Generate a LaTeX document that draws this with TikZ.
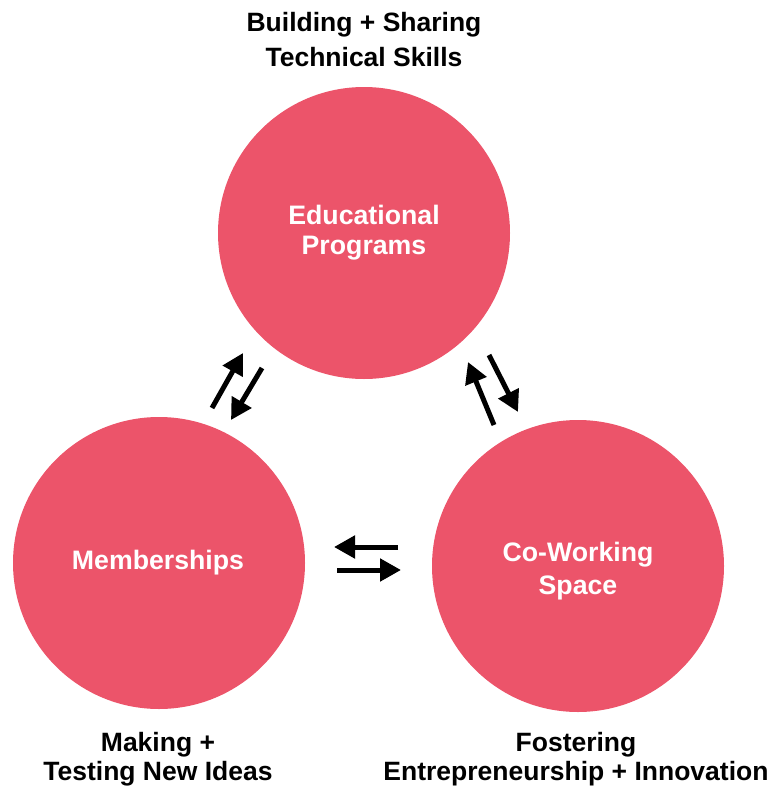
\documentclass[tikz,border=0pt]{standalone}
\usepackage{fontspec}
\setmainfont{Liberation Sans}
\usetikzlibrary{arrows.meta}
\definecolor{hub}{RGB}{236,84,106}
\tikzset{
  hubcircle/.style={circle, fill=hub, minimum size=292pt, inner sep=0pt},
  hubtext/.style={text=white, font=\bfseries\fontsize{26.7}{30}\selectfont, align=center},
  toplabel/.style={font=\bfseries\fontsize{26.5}{35}\selectfont, align=center},
  botlabel/.style={font=\bfseries\fontsize{26.5}{29}\selectfont, align=center},
  flow/.style={line width=5pt, -{Triangle[length=21pt,width=22pt]}}
}
\begin{document}
\begin{tikzpicture}[x=1pt,y=-1pt]
\useasboundingbox (0,0) rectangle (774,790);
\node[hubcircle] (edu) at (364,233) {};
\node[hubcircle] (mem) at (159,563) {};
\node[hubcircle] (cow) at (578,566) {};
\node[hubtext] (edut) at (364,233) {Educational\\Programs};
\node[hubtext] (memt) at (158,563) {Memberships};
\node[hubtext, font=\bfseries\fontsize{26.7}{33}\selectfont] (cowt) at (578,571) {Co-Working\\Space};
\node[toplabel] (tl) at (364,40) {Building + Sharing\\Technical Skills};
\node[botlabel] (bl) at (158,759) {Making +\\Testing New Ideas};
\node[botlabel] (br) at (576,759) {Fostering\\Entrepreneurship + Innovation};
% left pair
\coordinate (a1s) at (212,408); \coordinate (a1e) at (243,353);
\coordinate (a2s) at (262,368); \coordinate (a2e) at (231,420);
% right pair
\coordinate (b1s) at (494,425); \coordinate (b1e) at (468,362);
\coordinate (b2s) at (489,355); \coordinate (b2e) at (518,412);
% horizontal pair
\coordinate (c1s) at (398,547); \coordinate (c1e) at (334,547);
\coordinate (c2s) at (337,570); \coordinate (c2e) at (401,570);
\draw[flow] (a1s) -- (a1e);
\draw[flow] (a2s) -- (a2e);
\draw[flow] (b1s) -- (b1e);
\draw[flow] (b2s) -- (b2e);
\draw[flow] (c1s) -- (c1e);
\draw[flow] (c2s) -- (c2e);
\end{tikzpicture}
\end{document}
